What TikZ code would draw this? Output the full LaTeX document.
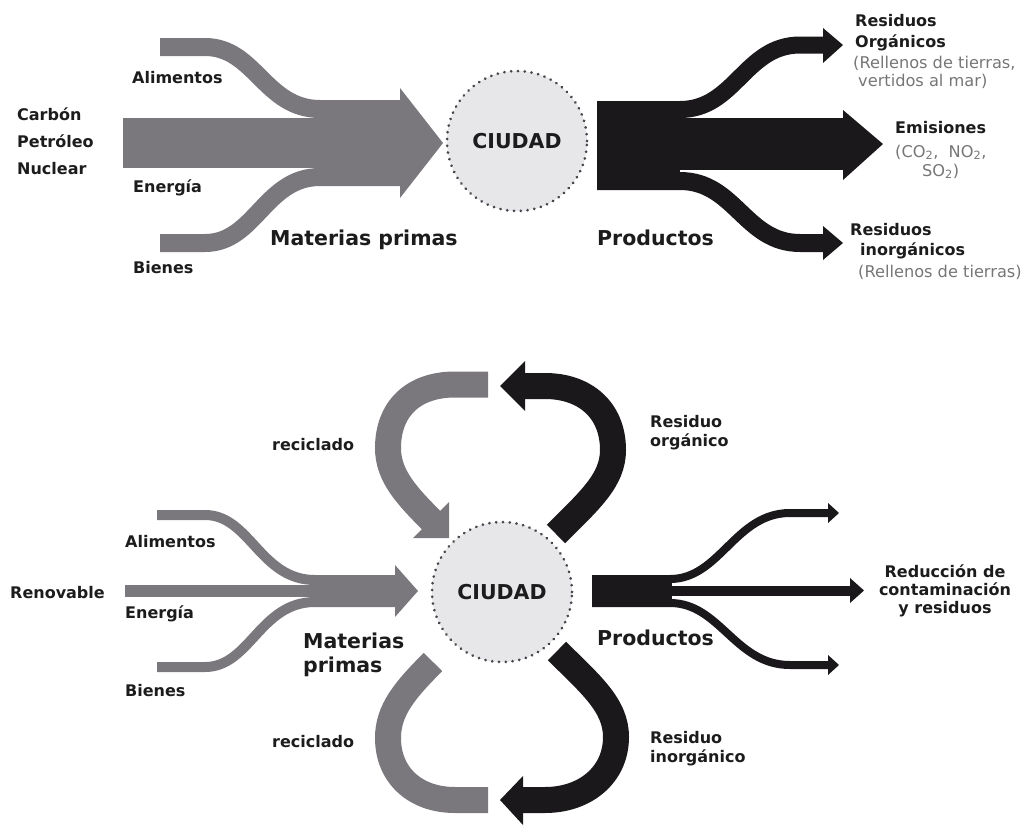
\documentclass[tikz,border=0pt]{standalone}
\usepackage{fontspec}
\setmainfont{DejaVu Sans}
\definecolor{flowgray}{RGB}{122,120,125}
\definecolor{flowblack}{RGB}{26,24,26}
\definecolor{cityfill}{RGB}{231,231,234}
\definecolor{citydot}{RGB}{70,70,75}
\definecolor{notegray}{RGB}{118,118,118}
\definecolor{labelc}{RGB}{28,28,28}
\tikzset{
  lbl/.style={font=\fontsize{16}{19}\selectfont\bfseries, text=labelc, inner sep=0pt, anchor=base west},
  lblc/.style={lbl, anchor=base},
  big/.style={font=\fontsize{20.5}{24}\selectfont\bfseries, text=labelc, inner sep=0pt, anchor=base west},
  note/.style={font=\fontsize{16.2}{19}\selectfont, text=notegray, inner sep=0pt, anchor=base west},
  city/.style={circle, minimum size=140pt, inner sep=0pt, fill=cityfill, draw=citydot,
    line width=3pt, line cap=round, dash pattern=on 0.01pt off 6.8pt,
    font=\fontsize{20.5}{24}\selectfont\bfseries, text=labelc},
  gflow/.style={draw=flowgray, line cap=butt},
  bflow/.style={draw=flowblack, line cap=butt},
}
\begin{document}
\begin{tikzpicture}[x=1pt,y=-1pt]
\useasboundingbox (0,0) rectangle (1029,827);

% ================= TOP DIAGRAM =================
% gray inputs
\draw[gflow, line width=18pt] (160,47) -- (205,47) .. controls (255,47) and (265,109) .. (320,109) -- (402,109);
\draw[gflow, line width=18pt] (160,243) -- (205,243) .. controls (255,243) and (265,177) .. (320,177) -- (402,177);
\fill[flowgray] (123,118) rectangle (402,168);
\fill[flowgray] (400,88) -- (443,143) -- (400,198) -- cycle;

\node[city] (c1) at (517,141) {CIUDAD};

% black outputs
\draw[bflow, line width=17pt] (597,109.5) -- (680,109.5) .. controls (735,109.5) and (745,45) .. (800,45) -- (825,45);
\fill[flowblack] (823,28) -- (843,45) -- (823,63) -- cycle;
\draw[bflow, line width=18pt] (597,181) -- (680,181) .. controls (735,181) and (745,243) .. (800,243) -- (825,243);
\fill[flowblack] (823,226) -- (843,243) -- (823,260) -- cycle;
\fill[flowblack] (597,117) rectangle (680,174);
\fill[flowblack] (597,118) rectangle (845,170);
\fill[flowblack] (843,110) -- (883,144) -- (843,180) -- cycle;

% top labels
\node[lbl] (carbon) at (17,120) {Carbón};
\node[lbl] (petroleo) at (17,147) {Petróleo};
\node[lbl] (nuclear) at (17,174) {Nuclear};
\node[lbl] (alim1) at (132,83) {Alimentos};
\node[lbl] (ener1) at (133,192) {Energía};
\node[lbl] (bien1) at (133,273) {Bienes};
\node[big] (mat1) at (270,245) {Materias primas};
\node[big] (prod1) at (597,245) {Productos};
\node[lbl] (ro1) at (855,27) {Residuos};
\node[lbl] (ro2) at (855,47) {Orgánicos};
\node[note] (ro3) at (853,68) {(Rellenos de tierras,};
\node[note] (ro4) at (858,86) {vertidos al mar)};
\node[lbl] (em1) at (895,133) {Emisiones};
\node[note] (em2) at (895,157) {(CO\textsubscript{2},\ \ NO\textsubscript{2},};
\node[note] (em3) at (922,176) {SO\textsubscript{2})};
\node[lbl] (ri1) at (850,235) {Residuos};
\node[lbl] (ri2) at (860,255) {inorgánicos};
\node[note] (ri3) at (858,277) {(Rellenos de tierras)};

% ================= BOTTOM DIAGRAM =================
% gray inputs
\draw[gflow, line width=10pt] (157,515) -- (205,515) .. controls (250,515) and (260,580) .. (315,580) -- (397,580);
\draw[gflow, line width=10pt] (157,667) -- (205,667) .. controls (250,667) and (260,602) .. (315,602) -- (397,602);
\fill[flowgray] (125,585) rectangle (397,597);
\fill[flowgray] (395,565) -- (418,591) -- (395,617) -- cycle;

% recycling loops
\draw[gflow, line width=26pt] (488,384.5) -- (455,384.5) .. controls (412,384.5) and (388,410) .. (388,448) .. controls (388,476) and (407,496) .. (433,522);
\fill[flowgray] (449,502) -- (449,538) -- (413,538) -- cycle;
\draw[bflow, line width=26pt] (556,534) .. controls (590,500) and (613,480) .. (613,450) .. controls (613,410) and (585,386) .. (545,386) -- (522,386);
\fill[flowblack] (525,361) -- (500,386) -- (525,411) -- cycle;
\draw[gflow, line width=26pt] (433,662) .. controls (405,690) and (388,710) .. (388,738) .. controls (388,775) and (415,800) .. (455,800) -- (488,800);
\draw[bflow, line width=26pt] (557,651) .. controls (590,684) and (616,705) .. (616,737) .. controls (616,775) and (585,800) .. (545,800) -- (521,800);
\fill[flowblack] (523,776) -- (500,800) -- (523,825) -- cycle;

\node[city] (c2) at (502,592) {CIUDAD};

% black outputs
\fill[flowblack] (592,575) rectangle (672,607);
\draw[bflow, line width=8pt] (592,579) -- (670,579) .. controls (720,579) and (735,513) .. (790,513) -- (830,513);
\fill[flowblack] (828,503) -- (839,513) -- (828,523) -- cycle;
\draw[bflow, line width=8pt] (592,603) -- (670,603) .. controls (720,603) and (735,665) .. (790,665) -- (830,665);
\fill[flowblack] (828,655) -- (839,665) -- (828,675) -- cycle;
\fill[flowblack] (670,585.5) rectangle (852,595.5);
\fill[flowblack] (850,578) -- (864,590.5) -- (850,603) -- cycle;

% bottom labels
\node[lbl] (rec1) at (272,450) {reciclado};
\node[lbl] (rec2) at (272,747) {reciclado};
\node[lbl] (alim2) at (125,547) {Alimentos};
\node[lbl] (renov) at (10,598) {Renovable};
\node[lbl] (ener2) at (125,618) {Energía};
\node[lbl] (bien2) at (125,696) {Bienes};
\node[big] (mat2a) at (303,648) {Materias};
\node[big] (mat2b) at (303,672) {primas};
\node[big] (prod2) at (597,645) {Productos};
\node[lbl] (rorg1) at (650,427) {Residuo};
\node[lbl] (rorg2) at (650,446) {orgánico};
\node[lbl] (rin1) at (650,743) {Residuo};
\node[lbl] (rin2) at (650,762) {inorgánico};
\node[lblc] (red1) at (945,577) {Reducción de};
\node[lblc] (red2) at (945,595) {contaminación};
\node[lblc] (red3) at (945,613) {y residuos};
\end{tikzpicture}
\end{document}
